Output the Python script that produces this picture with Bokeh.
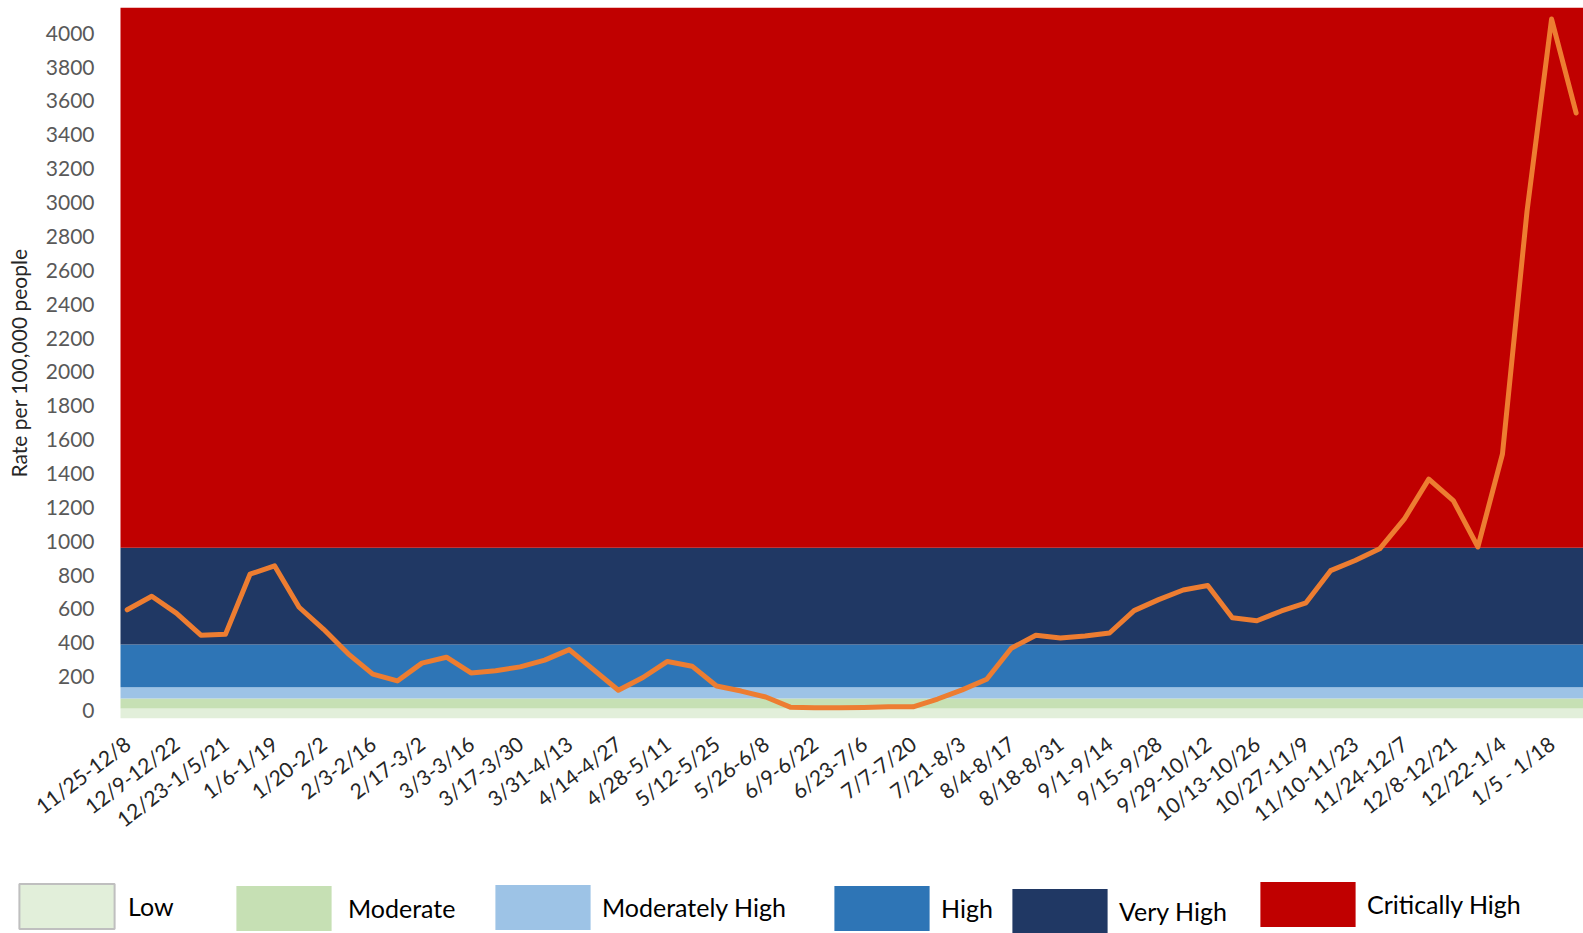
import numpy as np
from bokeh.plotting import figure
from bokeh.layouts import column
from bokeh.models import Range1d, FixedTicker, Legend, LegendItem
from bokeh.embed import file_html
from bokeh.resources import INLINE

# ---------------- data ----------------
tick_labels = ["11/25-12/8", "12/9-12/22", "12/23-1/5/21", "1/6-1/19", "1/20-2/2",
               "2/3-2/16", "2/17-3/2", "3/3-3/16", "3/17-3/30", "3/31-4/13",
               "4/14-4/27", "4/28-5/11", "5/12-5/25", "5/26-6/8", "6/9-6/22",
               "6/23-7/6", "7/7-7/20", "7/21-8/3", "8/4-8/17", "8/18-8/31",
               "9/1-9/14", "9/15-9/28", "9/29-10/12", "10/13-10/26", "10/27-11/9",
               "11/10-11/23", "11/24-12/7", "12/8-12/21", "12/22-1/4", "1/5 - 1/18"]

rates = [595, 675, 575, 445, 450, 805, 855, 610, 480, 335,
         215, 175, 280, 315, 222, 235, 258, 298, 360, 240,
         120, 195, 290, 262, 145, 115, 80, 20, 16, 16,
         18, 22, 22, 68, 122, 185, 368, 445, 428, 440,
         458, 590, 655, 712, 738, 548, 530, 588, 636, 826,
         886, 955, 1130, 1367, 1240, 966, 1515, 2949, 4084, 3529]

band_names = ["Low", "Moderate", "Moderately High", "High", "Very High", "Critically High"]
band_bottoms = [-47, 12, 71, 137, 390, 961]
band_tops = [12, 71, 137, 390, 961, 4152]
band_colors = ["#E2EFDA", "#C6E0B4", "#9DC3E6", "#2E75B6", "#203864", "#C00000"]

y_ticks = list(range(0, 4001, 200))

# ---------------- main figure ----------------
x = np.arange(len(rates))
label_every = len(rates) // len(tick_labels)
tick_pos = list(x[::label_every][:len(tick_labels)])

p = figure(width=1583, height=860, output_backend="svg", toolbar_location=None,
           x_range=Range1d(-0.273, len(rates) - 1 + 0.30),
           y_range=Range1d(band_bottoms[0], band_tops[-1]),
           min_border_left=120, min_border_right=0, min_border_top=7,
           min_border_bottom=142)
p.frame_align = False
p.outline_line_color = None
p.background_fill_color = "white"
p.grid.visible = False

for name, b, t, c in zip(band_names, band_bottoms, band_tops, band_colors):
    p.quad(left=[-1], right=[len(rates)], bottom=[b], top=[t],
           fill_color=c, line_color=None)

p.line(x, rates, line_color="#ED7D31", line_width=5,
       line_join="round", line_cap="round")

# axes
p.yaxis.ticker = FixedTicker(ticks=y_ticks)
p.yaxis.axis_line_color = None
p.yaxis.major_tick_line_color = None
p.yaxis.minor_tick_line_color = None
p.yaxis.major_tick_out = 0
p.yaxis.major_label_standoff = 26
p.yaxis.major_label_text_font = "Lato"
p.yaxis.major_label_text_font_size = "21px"
p.yaxis.major_label_text_color = "#595959"
p.yaxis.axis_label = "Rate per 100,000 people"
p.yaxis.axis_label_text_font = "Lato"
p.yaxis.axis_label_text_font_size = "21px"
p.yaxis.axis_label_text_font_style = "normal"
p.yaxis.axis_label_text_color = "#262626"
p.yaxis.axis_label_standoff = 12

p.xaxis.ticker = FixedTicker(ticks=tick_pos)
p.xaxis.major_label_overrides = {int(k): lab for k, lab in zip(tick_pos, tick_labels)}
p.xaxis.major_label_orientation = 0.65
p.xaxis.axis_line_color = None
p.xaxis.major_tick_line_color = None
p.xaxis.minor_tick_line_color = None
p.xaxis.major_tick_out = 0
p.xaxis.major_label_standoff = 22
p.xaxis.major_label_text_font = "Lato"
p.xaxis.major_label_text_font_size = "21px"
p.xaxis.major_label_text_color = "#262626"

# ---------------- legend strip ----------------
lf = figure(width=1583, height=73, output_backend="svg", toolbar_location=None,
            x_range=Range1d(0, 1), y_range=Range1d(0, 1),
            x_axis_type=None, y_axis_type=None,
            min_border_left=0, min_border_right=0, min_border_top=0, min_border_bottom=0)
lf.frame_align = False
lf.outline_line_color = None
lf.grid.visible = False

# legend swatches are drawn at 80% of the glyph box, so the box is enlarged
legend_locs = [(7, -1), (224, -3), (483, -2), (822, -3), (1000, -6), (1248, 1)]
legend_standoffs = [2, 5, -5, -12, -11, -18]
for i, (name, c, loc, so) in enumerate(zip(band_names, band_colors, legend_locs, legend_standoffs)):
    # swatch renderer kept outside the visible range; only its legend glyph shows
    r = lf.quad(left=[-3], right=[-2], bottom=[-3], top=[-2], fill_color=c,
                line_color="#BFBFBF" if i == 0 else None, line_width=2)
    lg = Legend(items=[LegendItem(label=name, renderers=[r])], location=loc,
                glyph_width=119, glyph_height=56, label_standoff=so,
                label_text_font="Lato", label_text_font_size="25px",
                label_text_color="#000000", padding=0, margin=0,
                border_line_alpha=0, background_fill_alpha=0)
    lf.add_layout(lg, "center")

layout = column(p, lf, spacing=0)
open("out.html", "w").write(file_html(layout, INLINE))
